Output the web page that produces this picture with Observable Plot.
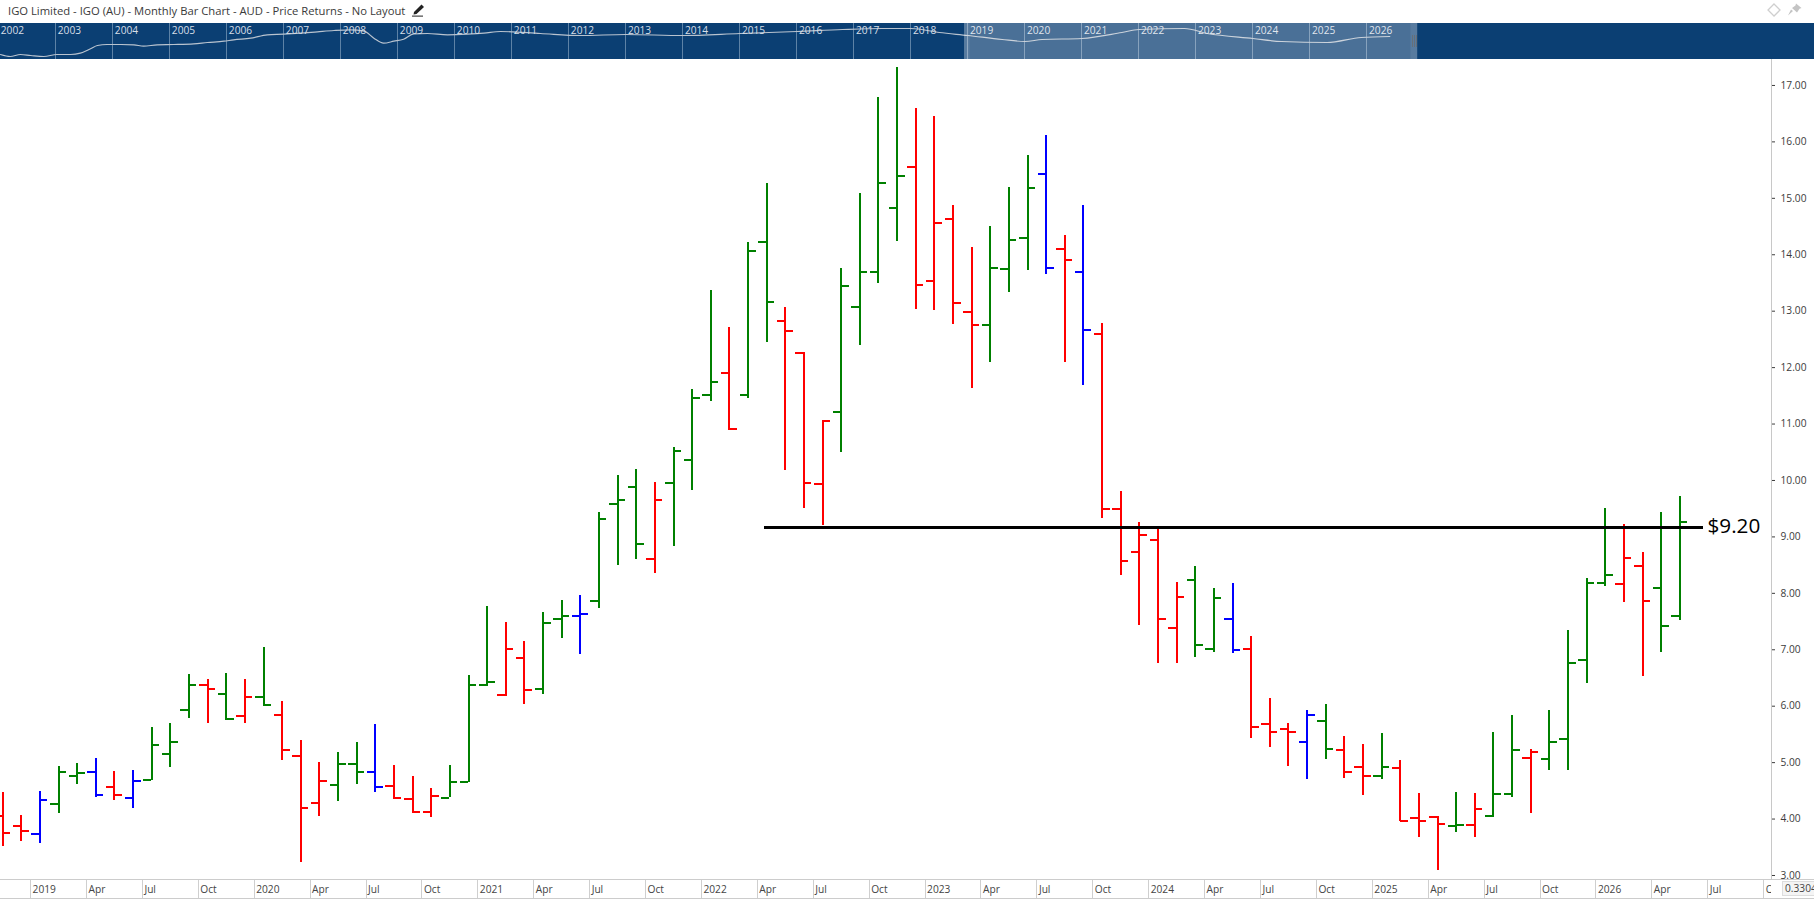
<!DOCTYPE html>
<html>
<head>
<meta charset="utf-8">
<title>IGO Limited</title>
<script src="https://cdn.jsdelivr.net/npm/d3@7"></script>
<script src="https://cdn.jsdelivr.net/npm/@observablehq/plot@0.6"></script>
<style>
  html, body { margin: 0; padding: 0; background: #fff; overflow: hidden; width: 1814px; height: 905px; font-family: "Open Sans", sans-serif; }
  #header { position: relative; height: 23px; width: 1814px; }
  #title { position: absolute; left: 8px; top: 3px; font-size: 11.25px; line-height: 16px; color: #3a3a3a; white-space: nowrap; }
  #header svg { position: absolute; }
  #nav, #main { height: auto; line-height: 0; }
  #bottom { display: flex; width: 1814px; height: 20px; box-sizing: border-box; border-top: 1px solid #ccc; border-bottom: 1px solid #ccc; overflow: hidden; }
  #scaleBox { position: absolute; left: 1782px; top: 881px; width: 40px; height: 15px; box-sizing: border-box; background: #f4f4f4; border: 1px solid #ddd; font-size: 10.2px; line-height: 13px; padding-left: 2px; color: #444; }
</style>
</head>
<body>
<div id="header">
  <div id="title">IGO Limited - IGO (AU) - Monthly Bar Chart - AUD - Price Returns - No Layout</div>
  <svg style="left:411px;top:3px" width="15" height="14" viewBox="0 0 15 14"><path d="M3 9 L10.5 1.5 L13 4 L5.5 11 L2.5 11.5 Z" fill="#222"/><rect x="1" y="12.6" width="11" height="1" fill="#222"/></svg>
  <svg style="left:1767px;top:3px" width="14" height="14" viewBox="0 0 14 14"><path d="M7 1 L13 7 L7 13 L1 7 Z" fill="none" stroke="#cfcfcf" stroke-width="1.3"/></svg>
  <svg style="left:1787px;top:3px" width="15" height="13" viewBox="0 0 15 13"><path d="M9 0.5 L14.5 5 L12.5 5.8 L10 9.5 L5 5 L8.5 2.6 Z M6 8 L1 12.5 L4 6.6 Z" fill="#c4c4c4"/></svg>
</div>
<div id="nav"></div>
<div id="main"></div>
<div id="bottom"><div id="axisBand"></div></div>
<div id="scaleBox">0.3304</div>
<script>
// Monthly bars, November 2018 to May 2026
const openValues = [4.06,3.87,3.73,4.26,4.77,4.83,4.56,4.38,4.70,5.16,5.94,6.38,6.21,5.82,
  6.17,5.84,5.11,4.28,4.60,4.98,4.83,4.58,4.35,4.13,4.38,4.65,
  6.38,6.19,6.85,6.30,7.54,7.59,7.86,9.59,9.89,8.60,9.95,10.37,
  11.51,11.90,11.52,14.23,12.82,12.26,9.93,11.21,13.08,13.70,14.82,15.55,
  13.53,14.64,12.99,12.76,13.75,14.30,15.43,14.10,13.69,12.59,9.49,8.74,
  8.95,7.39,8.23,7.02,7.54,7.02,5.68,5.59,5.37,5.73,5.22,4.93,
  4.77,4.91,4.01,4.03,3.87,3.89,4.06,4.44,5.09,5.07,5.41,6.81,
  8.19,8.17,8.48,8.10,7.60];
const highValues = [4.47,4.06,4.49,4.93,4.98,5.07,4.84,4.86,5.62,5.69,6.56,6.47,6.58,6.47,
  7.04,6.08,5.39,5.00,5.18,5.36,5.68,4.95,4.75,4.54,4.95,6.54,
  7.77,7.48,7.15,7.66,7.87,7.96,9.43,10.09,10.19,9.96,10.58,11.61,
  13.37,12.71,14.22,15.26,13.07,12.27,11.05,13.76,15.09,16.79,17.32,16.59,
  16.45,14.87,14.13,14.50,15.19,15.76,16.11,14.35,14.88,12.78,9.80,9.26,
  9.18,8.19,8.48,8.09,8.17,7.24,6.14,5.69,5.92,6.03,5.46,5.32,
  5.52,5.04,4.45,4.05,4.47,4.45,5.53,5.84,5.23,5.92,7.34,8.26,
  9.50,9.22,8.72,9.43,9.72];
const lowValues = [3.52,3.60,3.57,4.10,4.61,4.38,4.33,4.19,4.68,4.91,5.78,5.69,5.75,5.69,
  6.00,5.04,3.23,4.05,4.31,4.61,4.47,4.38,4.10,4.03,4.38,4.65,
  6.35,6.17,6.03,6.21,7.20,6.92,7.73,8.50,8.60,8.35,8.83,9.82,
  11.40,10.89,11.46,12.44,10.17,9.50,9.20,10.50,12.39,13.49,14.23,13.03,
  13.01,12.76,11.63,12.09,13.33,13.72,13.65,12.09,11.68,9.33,8.32,7.43,
  6.76,6.76,6.86,6.95,6.93,5.43,5.27,4.93,4.70,5.06,4.72,4.42,
  4.70,3.96,3.67,3.09,3.76,3.67,4.03,4.38,4.10,4.86,4.86,6.40,
  8.13,7.83,6.53,6.95,7.51];
const closeValues = [3.76,3.78,4.33,4.83,4.81,4.42,4.42,4.67,5.32,5.37,6.37,6.30,5.78,6.17,
  6.03,5.22,4.19,4.68,4.97,4.83,4.56,4.38,4.12,4.40,4.65,6.38,
  6.42,7.02,6.28,7.48,7.59,7.63,9.31,9.65,8.88,9.65,10.53,11.47,
  11.75,10.92,14.06,13.17,12.64,9.95,11.05,13.44,13.70,15.28,15.40,13.46,
  14.57,13.14,12.76,13.76,14.26,15.19,13.76,13.90,12.66,9.50,8.58,9.04,
  7.55,7.94,7.08,7.91,6.99,5.64,5.55,5.55,5.85,5.25,4.84,4.77,
  4.93,3.97,3.96,3.92,3.89,4.17,4.44,5.22,5.18,5.37,6.77,8.19,
  8.32,8.62,7.86,7.43,9.26];
const barColors = ["red","red","blue","green","green","blue","red","blue","green","green","green","red","green","red",
  "green","red","red","red","green","green","blue","red","red","red","green","green",
  "green","red","red","green","green","blue","green","green","green","red","green","green",
  "green","red","green","green","red","red","red","green","green","green","green","red",
  "red","red","red","green","green","green","blue","red","blue","red","red","red",
  "red","red","green","green","blue","red","red","red","blue","green","red","red",
  "green","red","red","red","green","red","green","green","red","green","green","green",
  "green","red","red","green","green"];
const firstBarIndex = -2;            // November 2018, counted in months from January 2019
const timeLabels = ["2019","Apr","Jul","Oct","2020","Apr","Jul","Oct","2021","Apr","Jul","Oct",
  "2022","Apr","Jul","Oct","2023","Apr","Jul","Oct","2024","Apr","Jul","Oct",
  "2025","Apr","Jul","Oct","2026","Apr","Jul","Oct"];
const priceTicks = [3,4,5,6,7,8,9,10,11,12,13,14,15,16,17];
const supportLevel = [{price: 9.16, from: 38.86, to: 89.27, label: "$9.20"}];

// Overview strip
const navYearLabels = [2002,2003,2004,2005,2006,2007,2008,2009,2010,2011,2012,2013,2014,2015,2016,2017,2018,2019,2020,2021,2022,2023,2024,2025,2026];
const navYears = [2002.03,2002.2,2002.38,2002.56,2002.79,2003.02,2003.26,2003.43,2003.61,2003.73,2003.9,2004.14,2004.37,2004.54,2004.78,2005.07,2005.42,2005.66,2005.95,2006.12,2006.42,2006.71,2007,2007.29,2007.59,2007.88,2008.17,2008.41,2008.58,2008.75,2008.93,2009.1,2009.28,2009.52,2009.87,2010.22,2010.51,2010.8,2011.5,2012.2,2013,2014,2015,2016,2016.8,2017.5,2018,2018.5,2019,2019.6,2020,2020.3,2021,2021.7,2022,2022.8,2023.2,2024,2024.5,2025.3,2025.9,2026.4];
const navLevels = [5,3,5,4,3,5,5,6.3,10.7,14,15,15,14.7,13.3,14.7,15,15.7,17,18.3,19.7,21.3,24.7,25.3,26.3,27.7,29,29.7,28.3,21.3,16.3,18.3,20.3,25.7,26,24.7,25.3,26.3,28,26,24,25,24,26,28,30,31,31,27,24,20,18,20,21,27,30,31,26,21,18,17,22,23];
const navWindow = [{start: 2018.94, end: 2026.89}];
const navHandles = [{start: 2018.94, end: 2019.04}, {start: 2026.77, end: 2026.89}];
const navGrips = [2026.80, 2026.835, 2026.87];

const bars = openValues.map((open, k) => ({
  i: firstBarIndex + k, open, high: highValues[k], low: lowValues[k], close: closeValues[k], color: barColors[k]
}));
const tickReach = 0.43;
const xDomain = [-2.114, 92.92];
const font = "'Open Sans', sans-serif";
const crisp = {shapeRendering: "crispEdges"};

document.getElementById("nav").append(Plot.plot({
  width: 1814, height: 36, marginTop: 0, marginBottom: 0, marginLeft: 0, marginRight: 0,
  style: {background: "#0b3f73", fontFamily: font, fontSize: "10.2px"},
  x: {domain: [2002.03, 2033.85], range: [0, 1814], axis: null},
  y: {domain: [0, 36], range: [36, 0], axis: null},
  marks: [
    Plot.ruleX(navYearLabels, {stroke: "#5d82a6", strokeWidth: 1, ...crisp}),
    Plot.line(navYears.map((y, k) => ({y, v: navLevels[k]})), {x: "y", y: "v", stroke: "#b9c3cf", strokeWidth: 1.2, curve: "monotone-x"}),
    Plot.text(navYearLabels, {x: d => d, y: () => 29, text: d => String(d), dx: 2, textAnchor: "start", fill: "#d6dee7"}),
    Plot.rect(navWindow, {x1: "start", x2: "end", fill: "white", fillOpacity: 0.26}),
    Plot.rect(navHandles, {x1: "start", x2: "end", fill: "white", fillOpacity: 0.08}),
    Plot.ruleX(navGrips, {y1: 12, y2: 24, stroke: "#666f78", strokeWidth: 1, ...crisp})
  ]
}));

document.getElementById("main").append(Plot.plot({
  width: 1814, height: 820, marginTop: 0, marginBottom: 0, marginLeft: 0, marginRight: 43,
  style: {background: "white", fontFamily: font, fontSize: "10.2px", color: "#3c3c3c"},
  x: {domain: xDomain, axis: null},
  y: {domain: [2.929, 17.46]},
  marks: [
    Plot.ruleX([xDomain[1]], {stroke: "#c8c8c8", strokeWidth: 1, ...crisp}),
    Plot.axisY({anchor: "right", ticks: priceTicks, tickFormat: d => d.toFixed(2), tickSize: 3, tickPadding: 6, label: null}),
    Plot.ruleX(bars, {x: "i", y1: "low", y2: "high", stroke: "color", strokeWidth: 2, ...crisp}),
    Plot.ruleY(bars, {y: "open", x1: d => d.i - tickReach, x2: "i", stroke: "color", strokeWidth: 2, ...crisp}),
    Plot.ruleY(bars, {y: "close", x1: "i", x2: d => d.i + tickReach, stroke: "color", strokeWidth: 2, ...crisp}),
    Plot.ruleY(supportLevel, {y: "price", x1: "from", x2: "to", stroke: "black", strokeWidth: 3, ...crisp}),
    Plot.text(supportLevel, {x: "to", y: "price", text: "label", dx: 4, dy: -2, textAnchor: "start", fill: "black", fontSize: 20.7})
  ]
}));

const timeTicks = timeLabels.map((label, k) => ({label, at: k * 3 - 0.5}));
document.getElementById("axisBand").append(Plot.plot({
  width: 1771, height: 18, marginTop: 0, marginBottom: 0, marginLeft: 0, marginRight: 0,
  style: {background: "white", fontFamily: font, fontSize: "10.2px", color: "#444"},
  x: {domain: xDomain, axis: null},
  y: {axis: null},
  marks: [
    Plot.ruleX(timeTicks, {x: "at", stroke: "#cfcfcf", strokeWidth: 1, ...crisp}),
    Plot.text(timeTicks, {x: "at", text: "label", dx: 2, textAnchor: "start", frameAnchor: "middle", fill: "#444"})
  ]
}));
</script>
</body>
</html>
